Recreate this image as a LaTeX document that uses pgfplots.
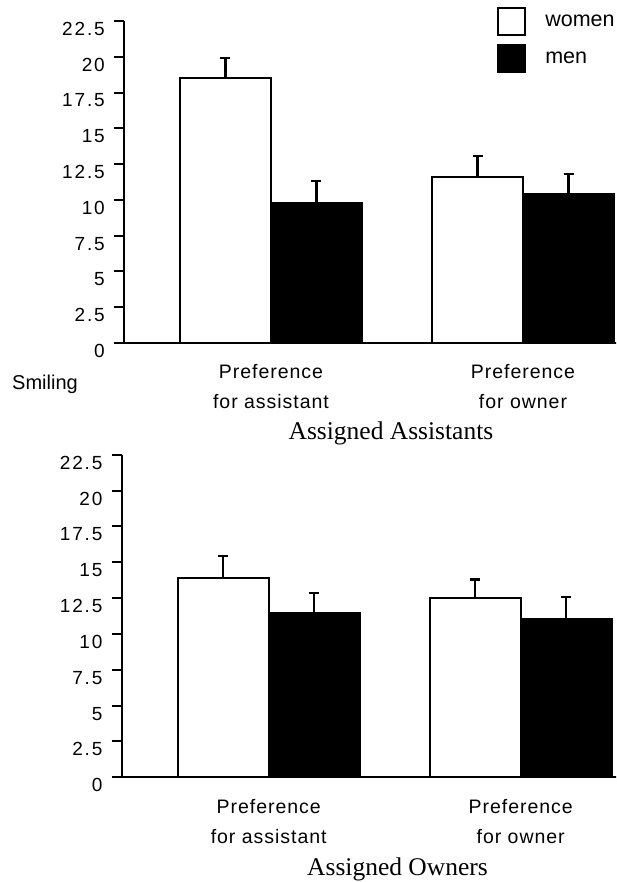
\documentclass[border=0pt]{standalone}
\usepackage{pgfplots}
\pgfplotsset{compat=1.18}
\usepackage{pgfplotstable}
\usepackage{fontspec}
\setmainfont{Liberation Sans}
\newfontfamily\tickfont[LetterSpace=10]{Liberation Sans}
\newfontfamily\catfont[LetterSpace=5]{Liberation Sans}
\newfontfamily\titlefont{Liberation Serif}

\pgfplotstableread{
x y e
1 18.5 1.4
2 11.6 1.45
}\topwomen
\pgfplotstableread{
x y e
1 9.75 1.55
2 10.4 1.4
}\topmen
\pgfplotstableread{
x y e
1 13.9 1.55
2 12.5 1.3
}\botwomen
\pgfplotstableread{
x y e
1 11.45 1.4
2 11.05 1.5
}\botmen

\pgfplotsset{
  smilestyle/.style={
    scale only axis, width=516pt,
    xmin=0.4167, xmax=2.4643, ymin=0, ymax=22.5,
    axis lines*=left,
    axis line style={line width=2pt, black},
    ybar, bar width=91pt, ybar=0pt,
    ytick={0,2.5,5,7.5,10,12.5,15,17.5,20,22.5},
    yticklabels={0,2.5,5,7.5,10,12.5,15,17.5,20,22.5},
    tick align=outside, major tick length=10pt,
    ytick style={line width=2pt, black},
    xtick={1,2}, xtick style={draw=none},
    xticklabels={{Preference\\for assistant},{Preference\\for owner}},
    /pgf/number format/assume math mode=true,
    yticklabel style={font=\tickfont\fontsize{19}{22}\selectfont, anchor=east, inner sep=0pt, yshift=-8pt, xshift=-9pt},
    xticklabel style={font=\catfont\fontsize{19.5}{30}\selectfont, align=center, anchor=north, inner sep=0pt, yshift=-11.5pt},
  },
  wbar/.style={fill=white, draw=black, line width=2pt,
    legend image code/.code={\draw[fill=white, draw=black, line width=1.8pt] (0pt,-13.5pt) rectangle (27pt,13.5pt);},
    error bars/.cd, y dir=plus, y explicit,
    error bar style={line width=2.2pt, black},
    error mark options={rotate=90, mark size=5pt, line width=2.2pt, black}},
  mbar/.style={fill=black, draw=black, line width=2pt,
    legend image code/.code={\draw[fill=black, draw=black, line width=1.8pt] (0pt,-13.5pt) rectangle (27pt,13.5pt);},
    error bars/.cd, y dir=plus, y explicit,
    error bar style={line width=2.2pt, black},
    error mark options={rotate=90, mark size=5pt, line width=2.2pt, black}},
}

\begin{document}
\begin{tikzpicture}
\useasboundingbox (0pt,0pt) rectangle (616pt,882pt);
\clip (0pt,0pt) rectangle (616pt,882pt);

\begin{axis}[smilestyle,
  at={(124pt,539pt)}, anchor=south west, height=322pt,
  ylabel={Smiling},
  ylabel style={rotate=-90, at={(axis description cs:-0.217,-0.1429)}, anchor=base west, inner sep=0pt, font=\fontsize{20}{24}\selectfont},
  xlabel={Assigned Assistants},
  xlabel style={at={(axis description cs:0.5174,-0.3012)}, anchor=base, inner sep=0pt, font=\titlefont\fontsize{25.5}{30}\selectfont},
  legend entries={women, men},
  legend cell align=left,
  legend style={at={(0.7238,1.0419)}, anchor=north west, draw=none, fill=none, inner sep=0pt, outer sep=0pt,
    row sep=8pt, column sep=19pt, font=\fontsize{21.5}{25}\selectfont,
    /tikz/every node/.append style={inner sep=0pt}},
]
\addplot[wbar] table[x=x, y=y, y error=e] {\topwomen};
\addplot[mbar] table[x=x, y=y, y error=e] {\topmen};
\end{axis}

\begin{axis}[smilestyle,
  at={(121.7pt,104.7pt)}, anchor=south west, height=322.6pt,
  xlabel={Assigned Owners},
  xlabel style={at={(axis description cs:0.5345,-0.3056)}, anchor=base, inner sep=0pt, font=\titlefont\fontsize{25.5}{30}\selectfont},
]
\addplot[wbar] table[x=x, y=y, y error=e] {\botwomen};
\addplot[mbar] table[x=x, y=y, y error=e] {\botmen};
\end{axis}
\end{tikzpicture}
\end{document}
